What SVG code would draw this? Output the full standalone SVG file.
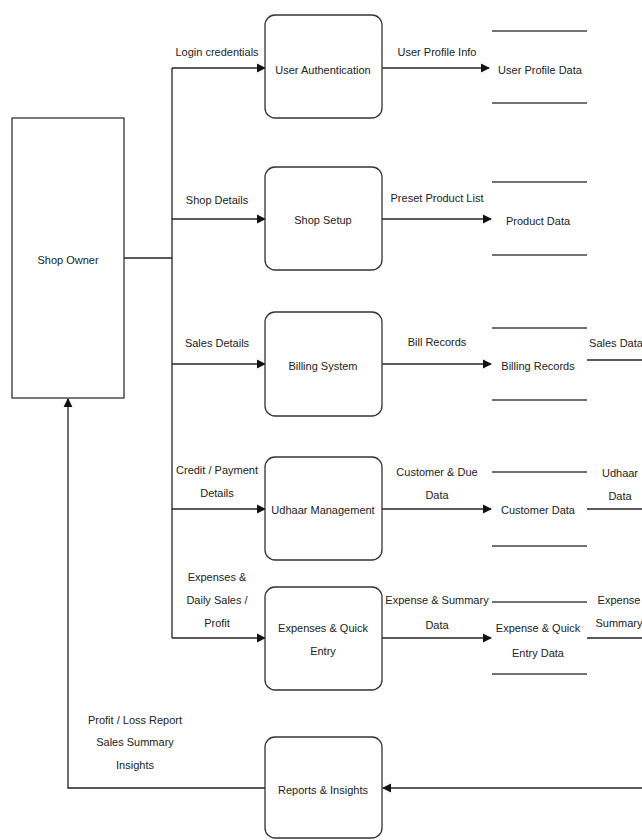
<svg xmlns="http://www.w3.org/2000/svg" width="642" height="840" viewBox="0 0 642 840">
<style>
text{font-family:"Liberation Sans",Arial,sans-serif;font-size:11px;fill:#222;text-anchor:middle;dominant-baseline:central}
.box{fill:#fff;stroke:#333;stroke-width:1.3}
.ln{fill:none;stroke:#222;stroke-width:1.3}
.st{fill:none;stroke:#444;stroke-width:1.5}
</style>
<defs>
<marker id="ah" viewBox="0 0 10 10" refX="9" refY="5" markerWidth="7" markerHeight="7" orient="auto">
<path d="M0,0 L10,5 L0,10 z" fill="#111"/>
</marker>
</defs>
<rect width="642" height="840" fill="#fff"/>
<g id="connectors">
<path class="ln" d="M124,258 H172" stroke-width="2.5"/>
<path class="ln" d="M172,68 V638"/>
<path class="ln" d="M172,68 H265" marker-end="url(#ah)"/>
<path class="ln" d="M172,219 H265" marker-end="url(#ah)"/>
<path class="ln" d="M172,364 H265" marker-end="url(#ah)"/>
<path class="ln" d="M172,509 H265" marker-end="url(#ah)"/>
<path class="ln" d="M172,638 H265" marker-end="url(#ah)"/>
<path class="ln" d="M382,68 H489" marker-end="url(#ah)"/>
<path class="ln" d="M382,219 H491" marker-end="url(#ah)"/>
<path class="ln" d="M382,364 H491" marker-end="url(#ah)"/>
<path class="ln" d="M382,509 H491" marker-end="url(#ah)"/>
<path class="ln" d="M382,638 H491" marker-end="url(#ah)"/>
<path class="ln" d="M587,360 H642"/>
<path class="ln" d="M587,509 H642"/>
<path class="ln" d="M587,638 H642"/>
<path class="ln" d="M642,788 H383" marker-end="url(#ah)"/>
<path class="ln" d="M265,788 H68 V399" marker-end="url(#ah)"/>
<text x="217" y="52">Login credentials</text>
<text x="217" y="200">Shop Details</text>
<text x="217" y="343">Sales Details</text>
<text x="217" y="470">Credit / Payment</text>
<text x="217" y="493">Details</text>
<text x="217" y="577">Expenses &amp;</text>
<text x="217" y="600">Daily Sales /</text>
<text x="217" y="623">Profit</text>
<text x="437" y="52">User Profile Info</text>
<text x="437" y="198">Preset Product List</text>
<text x="437" y="342">Bill Records</text>
<text x="437" y="472">Customer &amp; Due</text>
<text x="437" y="495">Data</text>
<text x="437" y="600">Expense &amp; Summary</text>
<text x="437" y="625">Data</text>
<text x="616" y="343">Sales Data</text>
<text x="620" y="473">Udhaar</text>
<text x="620" y="496">Data</text>
<text x="619" y="600">Expense</text>
<text x="619" y="623">Summary</text>
<text x="135" y="720">Profit / Loss Report</text>
<text x="135" y="742">Sales Summary</text>
<text x="135" y="765">Insights</text>
</g>
<g id="shop-owner">
<rect class="box" x="12" y="118" width="112" height="280"/>
<text x="68" y="260">Shop Owner</text>
</g>
<g id="user-auth">
<rect class="box" x="265" y="15" width="117" height="103" rx="10"/>
<text x="323" y="70">User Authentication</text>
</g>
<g id="shop-setup">
<rect class="box" x="265" y="167" width="117" height="103" rx="10"/>
<text x="323" y="220">Shop Setup</text>
</g>
<g id="billing-system">
<rect class="box" x="265" y="312" width="117" height="104" rx="10"/>
<text x="323" y="366">Billing System</text>
</g>
<g id="udhaar-management">
<rect class="box" x="265" y="457" width="117" height="103" rx="10"/>
<text x="323" y="510">Udhaar Management</text>
</g>
<g id="expenses-entry">
<rect class="box" x="265" y="587" width="117" height="103" rx="10"/>
<text x="323" y="628">Expenses &amp; Quick</text>
<text x="323" y="651">Entry</text>
</g>
<g id="reports-insights">
<rect class="box" x="265" y="737" width="117" height="101" rx="10"/>
<text x="323" y="790">Reports &amp; Insights</text>
</g>
<g id="ds-user-profile">
<path class="st" d="M492,31 H587 M492,103 H587"/>
<text x="540" y="70">User Profile Data</text>
</g>
<g id="ds-product">
<path class="st" d="M492,182 H587 M492,255 H587"/>
<text x="538" y="221">Product Data</text>
</g>
<g id="ds-billing">
<path class="st" d="M492,328 H587 M492,400 H587"/>
<text x="538" y="366">Billing Records</text>
</g>
<g id="ds-customer">
<path class="st" d="M492,472 H587 M492,546 H587"/>
<text x="538" y="510">Customer Data</text>
</g>
<g id="ds-expense">
<path class="st" d="M492,602 H587 M492,674 H587"/>
<text x="538" y="628">Expense &amp; Quick</text>
<text x="538" y="653">Entry Data</text>
</g>
</svg>
